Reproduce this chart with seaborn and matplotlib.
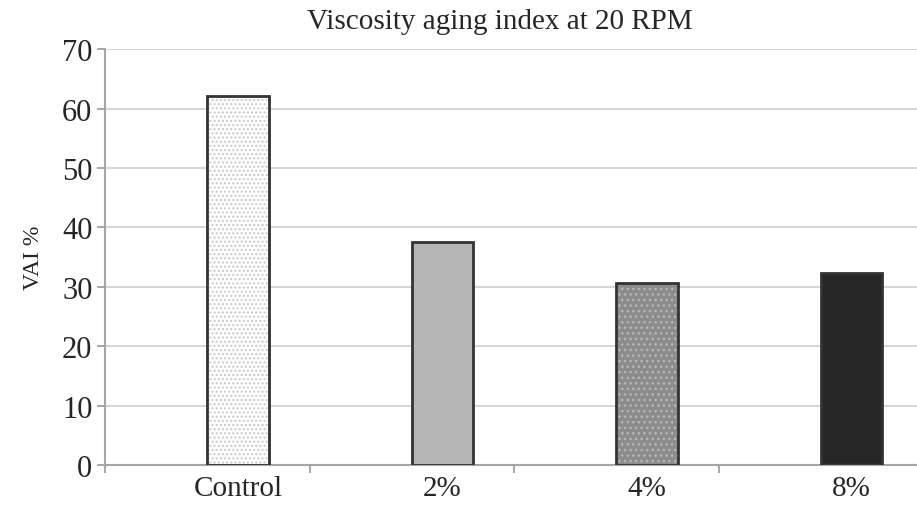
import seaborn as sns
import matplotlib.pyplot as plt
import pandas as pd

categories = ['Control', '2%', '4%', '8%']
vai = [62.1, 37.6, 30.6, 32.3]
fills = ['#ffffff', '#b5b5b5', '#8c8c8c', '#262626']
dots = ['#c8c8c8', '#b5b5b5', '#b8b8b8', '#3a3a3a']
hatches = ['....', '', '...', '']

# excel puts the bar right of the category centre (empty first series)
df = pd.DataFrame({'grupo': categories, 'VAI': vai, 'serie': 'B'})

sns.set_style('white')
plt.rcParams['font.family'] = ['Liberation Serif', 'DejaVu Serif']

fig = plt.figure(figsize=(9.17, 5.06), dpi=100)
ax = fig.add_axes([0.1145, 0.079, 0.8855, 0.822])

sns.barplot(data=df, x='grupo', y='VAI', hue='serie', hue_order=['A', 'B'],
            order=categories, width=0.6, dodge=True, legend=False, ax=ax)
# relleno + puntos
for bar, fc, hc, h in zip(ax.patches, fills, dots, hatches):
    bar.set_facecolor(fc)
    bar.set_edgecolor(hc)
    bar.set_hatch(h)
    bar.set_linewidth(0)
    bar.set_zorder(2)

# contorno oscuro encima
sns.barplot(data=df, x='grupo', y='VAI', hue='serie', hue_order=['A', 'B'],
            order=categories, width=0.6, dodge=True, legend=False, ax=ax,
            fill=False)
for bar in ax.patches[len(categories):]:
    bar.set_edgecolor('#333333')
    bar.set_linewidth(2)
    bar.set_zorder(3)

ax.set_ylim(0, 70)
ax.set_xlim(-0.5, 3.47)
ax.set_yticks(range(0, 71, 10))
ax.yaxis.grid(True, color='#d6d6d6', lw=1.5, zorder=0)
ax.set_axisbelow(True)
# labels under the bars, ticks between categories
ax.set_xticks([i + 0.15 for i in range(len(categories))], categories)
ax.set_xticks([-0.5, 0.5, 1.5, 2.5], minor=True)
ax.tick_params(axis='x', which='major', bottom=False, length=0, pad=7, labelsize=21)
ax.tick_params(axis='x', which='minor', bottom=True, length=6, width=1.3, color='#a0a0a0')
ax.tick_params(axis='y', left=True, length=6, width=1.3, color='#a0a0a0', labelsize=22, pad=3)

for s in ['top', 'right']:
    ax.spines[s].set_visible(False)
for s in ['left', 'bottom']:
    ax.spines[s].set_color('#a6a6a6')
    ax.spines[s].set_linewidth(1.5)

ax.set_xlabel('')
ax.set_ylabel('VAI %', fontsize=17, labelpad=13)
fig.text(0.545, 0.957, 'Viscosity aging index at 20 RPM', ha='center', va='center',
         fontsize=21)

fig.savefig('out.png', dpi=100)
